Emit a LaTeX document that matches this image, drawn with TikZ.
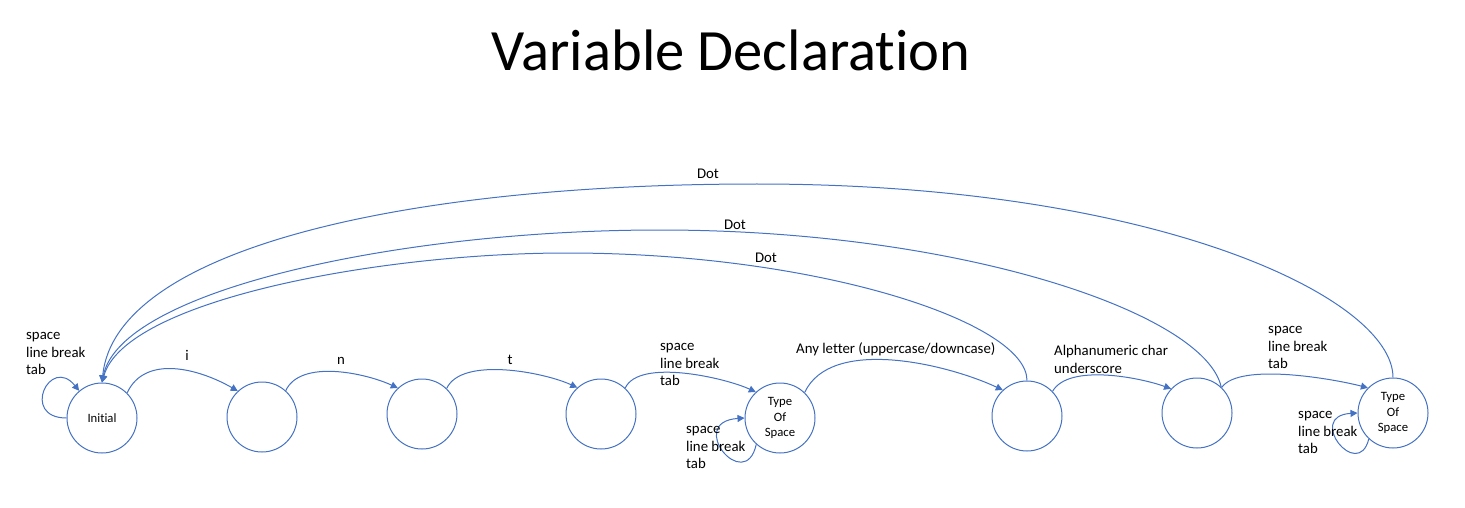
\documentclass[tikz,border=0pt]{standalone}
\usepackage{fontspec}
\setmainfont{Carlito}[Ligatures={NoCommon}]
\usetikzlibrary{arrows.meta}
\definecolor{lineblue}{HTML}{4472C4}
\newcommand\lblstrut{\rule{0pt}{12pt}}
\begin{document}
\begin{tikzpicture}[x=1pt,y=1pt,
  state/.style={circle,draw=lineblue,line width=1pt,minimum size=70pt,inner sep=0pt,
    font=\fontsize{12.7}{15.3}\selectfont,align=center},
  edge/.style={draw=lineblue,line width=1pt,-{Triangle[length=7pt,width=7pt]}},
  lbl/.style={font=\fontsize{14.8}{17.8}\selectfont,align=left,inner sep=0pt,anchor=north west},
  single/.style={font=\fontsize{14.8}{17.8}\selectfont,inner sep=0pt,anchor=base}]
\useasboundingbox (0,0) rectangle (1465,507);
\node[font=\fontsize{58.5}{70}\selectfont,anchor=base,inner sep=0pt] (title) at (731,436) {Variable Declaration};

% states
\node[state] (n1) at (102,89) {Initial};
\node[state] (n2) at (262,90) {};
\node[state] (n3) at (422,93) {};
\node[state] (n4) at (601,93) {};
\node[state] (t1) at (780,89) {Type\\Of\\Space};
\node[state] (n6) at (1027,91) {};
\node[state] (n7) at (1197,94) {};
\node[state] (t2) at (1393,94) {Type\\Of\\Space};

% forward edges
\draw[edge] (n1.45) to[out=65,in=150] (n2.133);
\draw[edge] (n2.48) to[out=65,in=155,looseness=0.8] (n3.133);
\draw[edge] (n3.46) to[out=65,in=155,looseness=0.7] (n4.132);
\draw[edge] (n4.47) to[out=65,in=155,looseness=0.65] (t1.133);
\draw[edge] (t1.46) to[out=65,in=155,looseness=0.8] (n6.133);
\draw[edge] (n6.44) to[out=60,in=160,looseness=0.7] (n7.137);
\draw[edge] (n7.46) to[out=55,in=165,looseness=0.55] (t2.135);

% self loops
\draw[edge] (n1.180) .. controls (20,89) and (50,152) .. (n1.130);
\draw[edge] (t1.228) .. controls (745,12) and (685,85) .. (t1.180);
\draw[edge] (t2.227) .. controls (1358,25) and (1305,91) .. (t2.180);

% Dot arcs back to Initial
\draw[edge] (t2.90) .. controls (1393,209) and (1157,323) .. (757,323)
  .. controls (400,323) and (115,257) .. (n1.90);
\draw[edge] (n7.47) .. controls (1205,194) and (960,277) .. (660,277)
  .. controls (400,277) and (120,217) .. (n1.90);
\draw[edge] (n6.90) .. controls (1027,185) and (817,254) .. (567,254)
  .. controls (380,254) and (125,207) .. (n1.90);

% labels
\node[lbl] (l0) at (26,180) {\lblstrut space\\line break\\tab};
\node[single] (li) at (187,147) {i};
\node[single] (ln) at (341,143) {n};
\node[single] (lt) at (510,143) {t};
\node[lbl] (l4) at (660,169) {\lblstrut space\\line break\\tab};
\node[lbl] (lt1) at (686,86) {\lblstrut space\\line break\\tab};
\node[single,anchor=base west] (lany) at (796,154) {Any letter (uppercase/downcase)};
\node[lbl] (lalnum) at (1054,164) {\lblstrut Alphanumeric char\\underscore};
\node[lbl] (lt2a) at (1268,186) {\lblstrut space\\line break\\tab};
\node[lbl] (lt2b) at (1298,101) {\lblstrut space\\line break\\tab};
\node[single] (d1) at (708,328) {Dot};
\node[single] (d2) at (735,278) {Dot};
\node[single] (d3) at (766,244) {Dot};
\end{tikzpicture}
\end{document}
